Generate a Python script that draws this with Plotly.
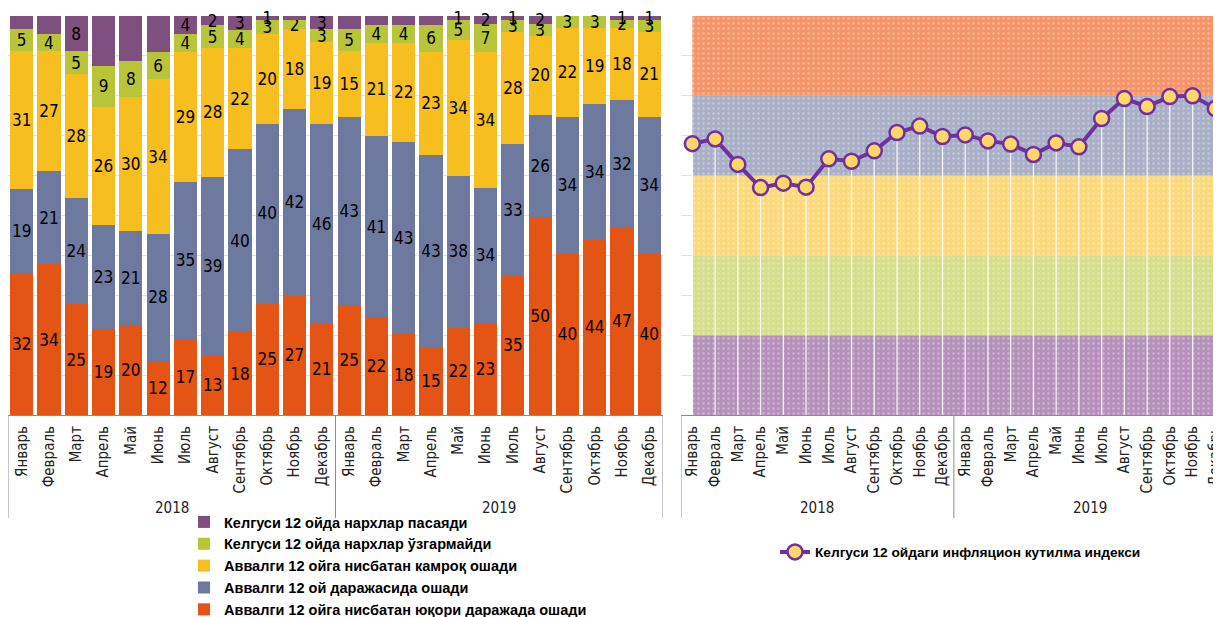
import plotly.graph_objects as go

# ---------------- data ----------------
months = ["Январь", "Февраль", "Март", "Апрель", "Май", "Июнь",
          "Июль", "Август", "Сентябрь", "Октябрь", "Ноябрь", "Декабрь"]
years = ["2018", "2019"]

# shares of respondents (bottom -> top of each stacked bar)
higher = [32, 34, 25, 19, 20, 12, 17, 13, 18, 25, 27, 21,
          25, 22, 18, 15, 22, 23, 35, 50, 40, 44, 47, 40]
same = [19, 21, 24, 23, 21, 28, 35, 39, 40, 40, 42, 46,
        43, 41, 43, 43, 38, 34, 33, 26, 34, 34, 32, 34]
less = [31, 27, 28, 26, 30, 34, 29, 28, 22, 20, 18, 19,
        15, 21, 22, 23, 34, 34, 28, 20, 22, 19, 18, 21]
nochange = [5, 4, 5, 9, 8, 6, 4, 5, 4, 3, 2, 3,
            5, 4, 4, 6, 5, 7, 3, 3, 3, 3, 2, 3]
fall = [3, 4, 8, 11, 10, 8, 4, 2, 3, 1, 1, 3,
        3, 2, 2, 2, 1, 2, 1, 2, 0, 0, 1, 1]
fall_label_shown = [False, False] + [True] * 22

series_names = [
    "Аввалги 12 ойга нисбатан юқори даражада ошади",
    "Аввалги 12 ой даражасида ошади",
    "Аввалги 12 ойга нисбатан камроқ ошади",
    "Келгуси 12 ойда нархлар ўзгармайди",
    "Келгуси 12 ойда нархлар пасаяди",
]

# inflation expectations index
index_name = "Келгуси 12 ойдаги инфляцион кутилма индекси"
index_values = [68.0, 69.2, 62.8, 57.0, 58.1, 57.1, 64.2, 63.6, 66.2, 70.8, 72.4, 69.8,
                70.2, 68.7, 67.9, 65.3, 68.2, 67.2, 74.3, 79.3, 77.3, 79.8, 80.0, 76.8]
# background zones of the index (bottom -> top)
zone_sizes = [20, 20, 20, 20, 20]

# ---------------- styles ----------------
bar_colors = ["#E35415", "#6E79A0", "#F6BE1F", "#B8C539", "#7E4F7F"]
zone_colors = ["#B590BA", "#D5DE8B", "#FDD97B", "#A8AFC6", "#F49468"]
NARROW = "Liberation Sans Narrow, Arial Narrow, DejaVu Sans Condensed, sans-serif"
BOLD = "Liberation Sans, Arial, sans-serif"

W, H = 1221, 617
OFF = 8  # page body margin in which the figure is placed
def px_x(p):
    return min(max((p - OFF) / W, 0.0), 1.0)
def px_y(p):
    return 1 - (p - OFF) / H

labels = [f"{m}" for y in years for m in months]
pos = list(range(len(labels)))

fig = go.Figure()

# ---------------- left: stacked 100% bars ----------------
all_series = [higher, same, less, nochange, fall]
for name, vals, col in zip(series_names, all_series, bar_colors):
    if vals is fall:
        txt = [str(v) if s else "" for v, s in zip(vals, fall_label_shown)]
    else:
        txt = [str(v) for v in vals]
    fig.add_trace(go.Bar(
        x=pos, y=vals, name=name, marker=dict(color=col, line=dict(width=0)),
        text=txt, textposition="inside", insidetextanchor="middle", textangle=0,
        textfont=dict(family=NARROW, size=17, color="#000000"),
        cliponaxis=False, hoverinfo="skip", xaxis="x", yaxis="y", legend="legend",
    ))

# ---------------- right: index with zones ----------------
for zsize, zcol in zip(zone_sizes, zone_colors):
    fig.add_trace(go.Scatter(
        x=pos, y=[zsize] * len(pos), stackgroup="zones", mode="none",
        fillcolor=zcol,
        fillpattern=dict(shape=".", fgcolor="rgba(255,255,255,0.65)", bgcolor=zcol,
                         size=5, solidity=0.18),
        showlegend=False, hoverinfo="skip", xaxis="x2", yaxis="y2",
    ))

drop_x, drop_y = [], []
for xi, v in zip(pos, index_values):
    drop_x += [xi, xi, None]
    drop_y += [0, v, None]
fig.add_trace(go.Scatter(
    x=drop_x, y=drop_y, mode="lines", line=dict(color="rgba(255,255,255,0.85)", width=1.3),
    showlegend=False, hoverinfo="skip", xaxis="x2", yaxis="y2",
))
fig.add_trace(go.Scatter(
    x=pos, y=index_values, name=index_name, mode="lines+markers",
    line=dict(color="#7030A0", width=4),
    marker=dict(size=15, color="#FDD769", line=dict(color="#7030A0", width=2.5)),
    xaxis="x2", yaxis="y2", legend="legend2", cliponaxis=False,
))

# ---------------- layout ----------------
y_dom = [px_y(415), px_y(16)]
axis_common = dict(tickvals=pos, ticktext=labels, tickangle=-90,
                   tickfont=dict(family=NARROW, size=15, color="#222222"),
                   showgrid=False, zeroline=False, showline=True, linecolor="#8C8C8C",
                   linewidth=1, ticks="outside", ticklen=4, tickcolor="rgba(0,0,0,0)",
                   fixedrange=True, automargin=False, ticklabeloverflow="allow")
fig.update_layout(
    width=W, height=H, margin=dict(l=0, r=0, t=0, b=0, autoexpand=False),
    paper_bgcolor="white", plot_bgcolor="white",
    barmode="stack", barnorm="percent", bargap=0.15,
    uniformtext=dict(minsize=17, mode="show"),
    xaxis=dict(domain=[px_x(8), px_x(663)], range=[-0.5, 23.5], **axis_common),
    yaxis=dict(domain=y_dom, range=[0, 100], dtick=10, showticklabels=False,
               gridcolor="#E3E3E3", zeroline=False, fixedrange=True, automargin=False),
    xaxis2=dict(domain=[px_x(681), px_x(1221)], range=[-0.5, 23.25], anchor="y2", **axis_common),
    yaxis2=dict(domain=y_dom, range=[0, 100], dtick=10, showticklabels=False,
                gridcolor="#E3E3E3", zeroline=False, anchor="x2", fixedrange=True,
                automargin=False),
    legend=dict(x=px_x(184), y=px_y(506), xanchor="left", yanchor="top",
                traceorder="reversed",
                font=dict(family=BOLD, size=14.5, color="#000000", weight="bold"),
                bgcolor="rgba(0,0,0,0)", itemwidth=30, tracegroupgap=0),
    legend2=dict(x=px_x(775), y=px_y(552), xanchor="left", yanchor="middle",
                 font=dict(family=BOLD, size=13.7, color="#000000", weight="bold"),
                 bgcolor="rgba(0,0,0,0)"),
    showlegend=True,
)

# group separators and year labels
for xa in ["x", "x2"]:
    for b in [-0.5, 11.5, 23.5]:
        fig.add_shape(type="line", xref=xa, yref="paper", x0=b, x1=b,
                      y0=px_y(415), y1=px_y(518), line=dict(color="#8C8C8C", width=1))
    for i, yr in enumerate(years):
        fig.add_annotation(x=5.5 + 12 * i, xref=xa, y=px_y(508), yref="paper",
                           yanchor="middle", xanchor="center",
                           text=yr, showarrow=False,
                           font=dict(family=NARROW, size=15, color="#222222"))

fig.write_html("out.html")
